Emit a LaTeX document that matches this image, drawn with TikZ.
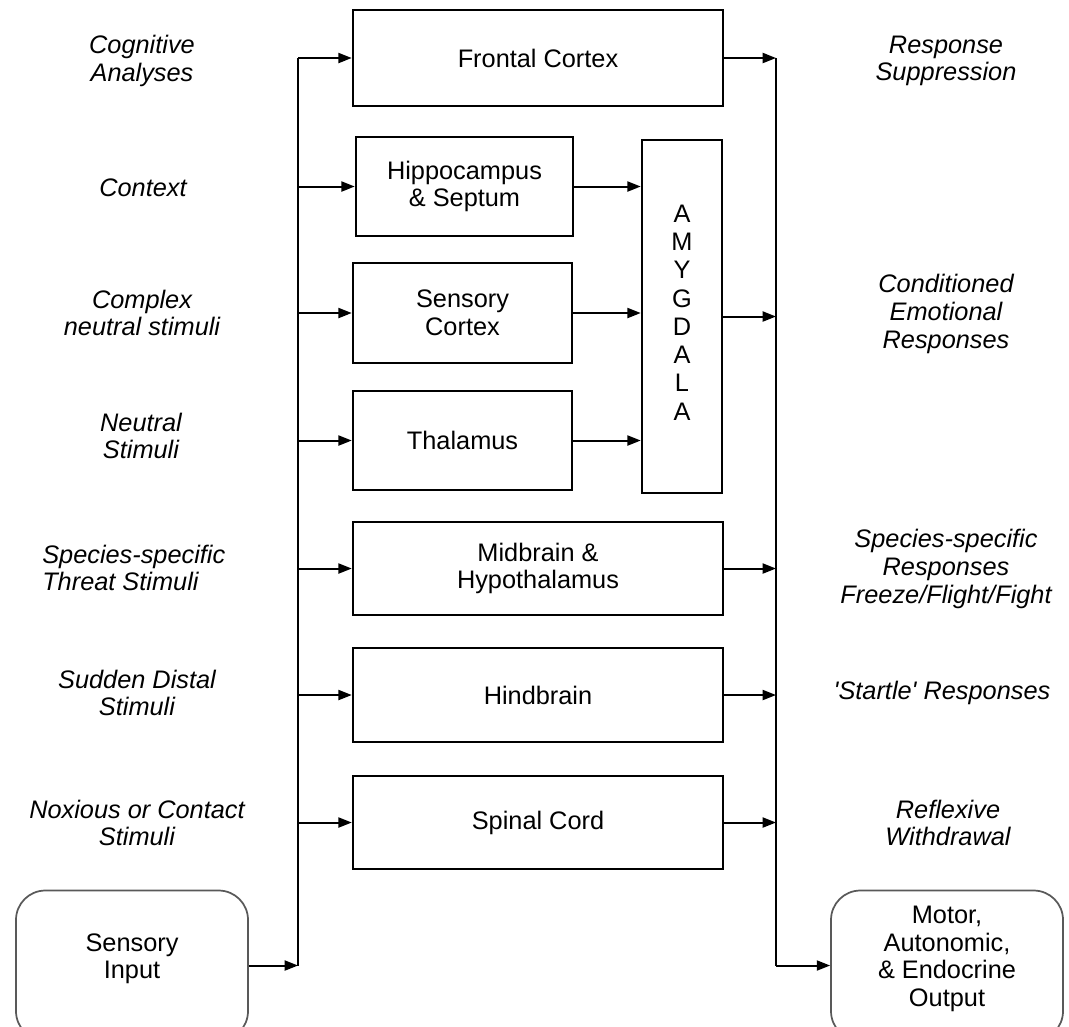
\documentclass[tikz,border=0pt]{standalone}
\usepackage{fontspec}
\setmainfont{Liberation Sans}
\usetikzlibrary{arrows.meta}

\begin{document}
\begin{tikzpicture}[x=0.75pt,y=0.75pt,yscale=-1,xscale=1,
  box/.style={draw,line width=1.9pt,align=center,inner sep=0.75pt,font=\fontsize{19}{20.8}\selectfont},
  endbox/.style={draw=black!65,line width=1.3pt,rounded corners=22pt,align=center,inner sep=0.75pt,
    minimum width=174pt,minimum height=112.5pt,text depth=14pt,font=\fontsize{19}{20.8}\selectfont},
  lab/.style={align=center,inner sep=0.75pt,font=\fontsize{19}{20.8}\selectfont\itshape},
  wire/.style={line width=1.5pt},
  arr/.style={line width=1.5pt,-{Triangle[length=10pt,width=7.5pt]}}]
\clip (0,0) rectangle (1069,1026); %set diagram size

% Coordinates of the two buses
\coordinate (lbus) at (298,0);
\coordinate (rbus) at (776,0);

% Box Nodes
\node [box,minimum width=277.5pt,minimum height=72pt] (frontal) at (538,58) {Frontal Cortex};
\node [box,minimum width=162.75pt,minimum height=74.25pt] (hippo) at (464.5,186.5) {Hippocampus\\\& Septum};
\node [box,minimum width=164.25pt,minimum height=75pt] (sensctx) at (462.5,313) {Sensory\\Cortex};
\node [box,minimum width=164.25pt,minimum height=74.25pt] (thal) at (462.5,440.5) {Thalamus};
\node [box,minimum width=60pt,minimum height=264.75pt,text depth=6pt,font=\fontsize{19}{21.2}\selectfont] (amyg) at (682,316.5) {A\\M\\Y\\G\\D\\A\\L\\A};
\node [box,minimum width=277.5pt,minimum height=69.75pt] (midbrain) at (538,568.5) {Midbrain \&\\Hypothalamus};
\node [box,minimum width=277.5pt,minimum height=70.5pt] (hindbrain) at (538,695) {Hindbrain};
\node [box,minimum width=277.5pt,minimum height=69.75pt] (spinal) at (538,822.5) {Spinal Cord};
\node [endbox] (input) at (132,965.5) {Sensory\\Input};
\node [endbox] (output) at (947,965.5) {Motor,\\Autonomic,\\\& Endocrine\\Output};

% Text Node
\node [lab] (lcog) at (142,61) {Cognitive\\Analyses};
% Text Node
\node [lab] (lctx) at (143,188) {Context};
% Text Node
\node [lab] (lcomplex) at (142,313) {Complex\\neutral stimuli};
% Text Node
\node [lab] (lneutral) at (141,436) {Neutral\\Stimuli};
% Text Node
\node [lab,anchor=west,align=left] (lthreat) at (41,568) {Species-specific\\Threat Stimuli};
% Text Node
\node [lab] (lsudden) at (137,693) {Sudden Distal\\Stimuli};
% Text Node
\node [lab] (lnoxious) at (137,823) {Noxious or Contact\\Stimuli};
% Text Node
\node [lab] (rsupp) at (946,61) {Response\\Suppression};
% Text Node
\node [lab] (rcond) at (946,314) {Conditioned\\Emotional\\Responses};
% Text Node
\node [lab] (rspecies) at (946,569) {Species-specific\\Responses\\Freeze/Flight/Fight};
% Text Node
\node [lab] (rstartle) at (942,693) {\textquotesingle Startle\textquotesingle{} Responses};
% Text Node
\node [lab] (rreflex) at (948,823) {Reflexive\\Withdrawal};

% Connection
\draw [wire] (frontal.west -| lbus) -- (input.east -| lbus);
\draw [arr] (input.east) -- (input.east -| lbus);
\foreach \n in {frontal,hippo,sensctx,thal,midbrain,hindbrain,spinal}
  \draw [arr] (\n.west -| lbus) -- (\n.west);
% Connection
\foreach \n in {hippo,sensctx,thal}
  \draw [arr] (\n.east) -- (\n.east -| amyg.west);
% Connection
\draw [wire] (frontal.east -| rbus) -- (output.west -| rbus);
\foreach \n in {frontal,amyg,midbrain,hindbrain,spinal}
  \draw [arr] (\n.east) -- (\n.east -| rbus);
\draw [arr] (output.west -| rbus) -- (output.west);

\end{tikzpicture}
\end{document}
